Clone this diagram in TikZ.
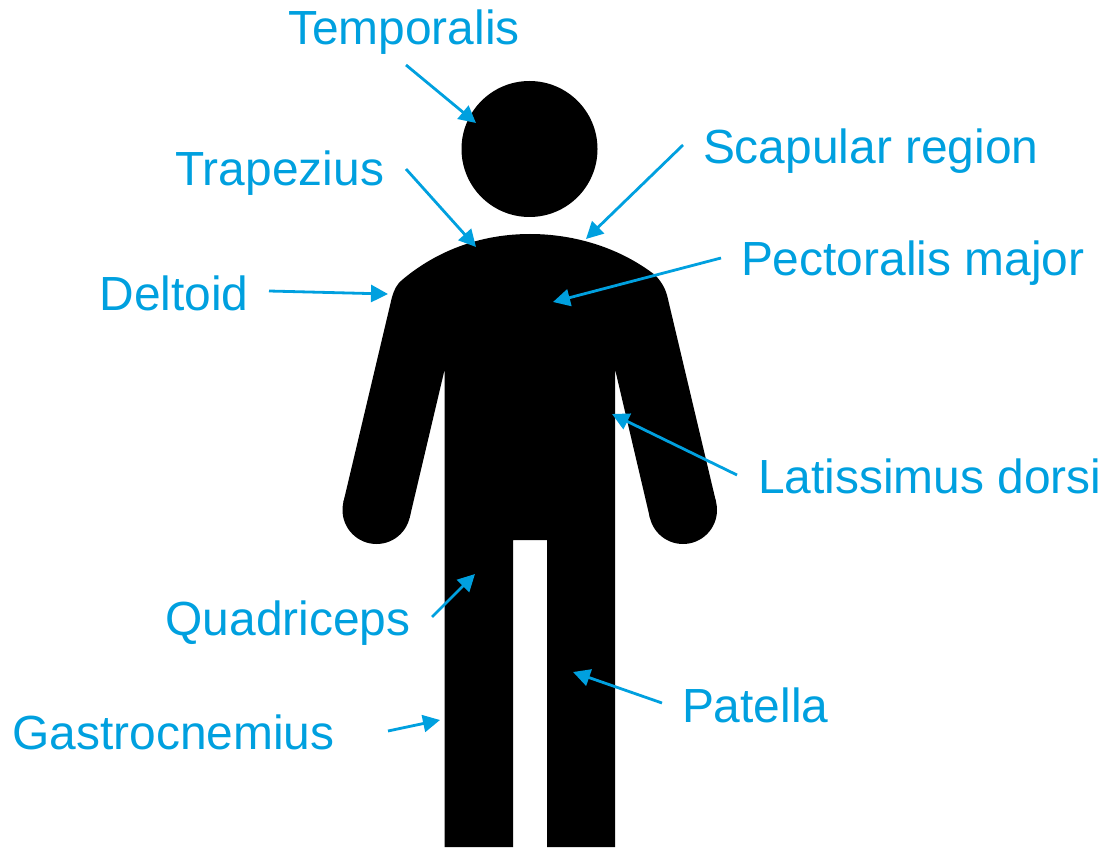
\documentclass[tikz,border=0pt]{standalone}
\usepackage{fontspec}
\setmainfont{Liberation Sans}
\usetikzlibrary{arrows.meta}
\definecolor{lblue}{RGB}{0,160,223}
\tikzset{
  lbl/.style={anchor=base west,inner sep=0pt,outer sep=0pt,text=lblue,font=\fontsize{47.9pt}{52pt}\selectfont},
  conn/.style={draw=lblue,line width=2.8pt,-{Triangle[length=17pt,width=17pt]},shorten >=0pt},
  bodyfill/.style={fill=black,draw=none}
}
\begin{document}
\begin{tikzpicture}[x=1pt,y=-1pt]
\useasboundingbox (0,0) rectangle (1116,850);
% figure
\node[circle,fill=black,inner sep=0pt,minimum size=136pt] (head) at (529.5,149) {};
\fill[bodyfill] (392,297) .. controls (394,290) and (397,284) .. (402,280)
  .. controls (440,248) and (485,234) .. (530,234)
  .. controls (575,234) and (620,248) .. (655,275)
  .. controls (661,281) and (665,288) .. (667,295)
  -- (716.1,502.2) -- (649.9,517.8) -- (615,369) -- (615,847) -- (547,847) -- (547,540)
  -- (513,540) -- (513,847) -- (444.5,847) -- (444.5,370) -- (409.6,518) -- (343.4,502.1) -- cycle;
\node[circle,fill=black,inner sep=0pt,minimum size=68pt] (lhand) at (376.5,510) {};
\node[circle,fill=black,inner sep=0pt,minimum size=68pt] (rhand) at (683,510) {};
% labels
\node[lbl] (temporalis) at (288,45) {Temporalis};
\node[lbl] (trapezius) at (175.5,186) {Trapezius};
\node[lbl] (scapular) at (703,164) {Scapular region};
\node[lbl] (pectoralis) at (741,276) {Pectoralis major};
\node[lbl] (deltoid) at (99.5,310) {Deltoid};
\node[lbl] (latissimus) at (758,493) {Latissimus dorsi};
\node[lbl] (quadriceps) at (165.5,635) {Quadriceps};
\node[lbl] (patella) at (682,722) {Patella};
\node[lbl] (gastro) at (12.5,749) {Gastrocnemius};
% connector ends
\coordinate (s1) at (406,65);  \coordinate (e1) at (476,123);
\coordinate (s2) at (406,169); \coordinate (e2) at (476,247);
\coordinate (s3) at (683,145); \coordinate (e3) at (586,239);
\coordinate (s4) at (269,291); \coordinate (e4) at (388,294);
\coordinate (s5) at (721,258); \coordinate (e5) at (553,302);
\coordinate (s6) at (737,475); \coordinate (e6) at (612,414);
\coordinate (s7) at (432,617); \coordinate (e7) at (475,574);
\coordinate (s8) at (662,703); \coordinate (e8) at (573,672);
\coordinate (s9) at (388,731); \coordinate (e9) at (440,720);
\foreach \i in {1,...,9} {\draw[conn] (s\i) -- (e\i);}
\end{tikzpicture}
\end{document}
